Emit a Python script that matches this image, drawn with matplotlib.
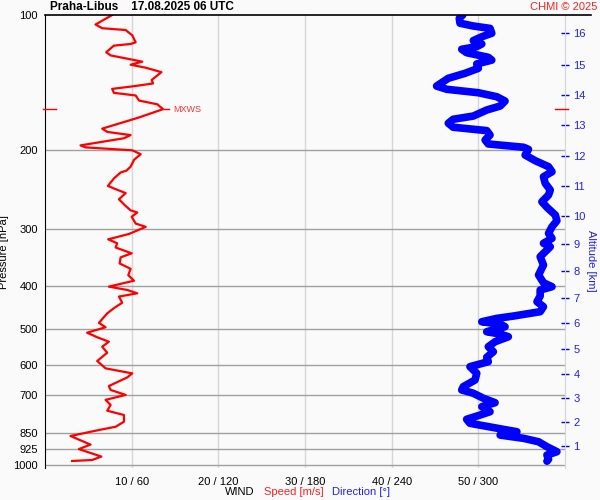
import matplotlib
matplotlib.use("Agg")
import matplotlib.pyplot as plt
from matplotlib.lines import Line2D
import numpy as np

plt.rcParams['font.family'] = ['Liberation Sans', 'DejaVu Sans']

# ---- data ----
speed_p = [100, 105, 107, 108, 111, 115, 116, 117, 121, 123, 125.5, 127, 129, 131, 134, 139.5,
           142, 144, 146, 149, 151, 155, 158, 162, 169, 179, 182, 185, 188, 195, 197, 200, 204,
           210, 217.5, 222, 224, 231, 240, 244, 249, 257, 265, 272, 275, 281, 291, 296, 307,
           315.5, 322, 329, 339, 346, 357, 367, 379, 390, 402, 409, 416, 423, 436.5, 449, 461,
           484, 495, 509, 521, 533, 547, 564, 588.5, 611, 627, 640, 669, 682.5, 700, 718, 737,
           759, 776, 803, 824, 838, 864, 903, 924, 960, 977, 982]
speed = [7.75, 5.83, 6.6, 9.3, 10.07, 10.46, 9.88, 7.95, 7.06, 7.57, 9.88, 11.23, 9.88, 11.62,
         13.43, 12.31, 12.47, 10.27, 7.75, 7.95, 10.46, 10.85, 12.96, 13.62, 10.85, 6.6, 7.18,
         9.88, 9.11, 4.1, 4.68, 10.07, 11.04, 10.27, 9.88, 9.38, 8.73, 7.95, 7.26, 8.15, 9.31,
         8.53, 9.22, 9.88, 10.65, 10.0, 10.46, 11.62, 9.69, 7.29, 8.33, 8.15, 10.0, 8.73, 8.61,
         9.88, 9.61, 10.27, 7.37, 9.49, 10.65, 8.53, 8.91, 7.95, 7.18, 6.22, 6.99, 4.86, 6.02,
         7.37, 6.6, 7.18, 6.02, 6.99, 10.07, 9.49, 7.37, 7.57, 9.31, 6.99, 7.57, 7.18, 9.11,
         9.11, 8.15, 6.22, 2.94, 5.25, 3.9, 6.5, 5.44, 3.13]

dir_p = [100, 101.7, 104.3, 105.8, 107.1, 109.8, 111.8, 114, 116, 117.6, 119.2, 121.3, 124.2,
         126, 128.5, 131.4, 134.8, 138.3, 143.9, 146.3, 148.9, 152, 155.4, 159.4, 162.7, 167.8,
         170.6, 174.1, 177.7, 180.8, 184.9, 189.7, 193.6, 196.9, 199, 204.9, 210.9, 217.5,
         223.2, 229, 236.8, 245.1, 251.5, 260.3, 267.8, 278.6, 286.9, 295.8, 306, 314, 322,
         327.7, 333.3, 344.9, 359.9, 378.7, 394.1, 402.2, 409.1, 421.8, 434.3, 445.6, 457.1,
         467.4, 473, 481.3, 487, 493.7, 506.5, 512.5, 519.7, 533.1, 546.9, 561.1, 577.4, 590.5,
         605.8, 626.8, 648.6, 671, 682.5, 694.1, 712.2, 728.5, 743.5, 763, 776.1, 793.2, 809.6,
         835.2, 845.3, 859.9, 874.5, 889.9, 912.8, 936.5, 952.6, 973.6, 983]
direction = [289.2, 286.8, 287.3, 296.5, 308.1, 309.3, 302.4, 296.5, 302.4, 298.9, 288.5, 291.9,
             306.9, 309.3, 298.9, 300, 290.8, 279.2, 271.1, 278.1, 300, 312.8, 318.5, 315.1,
             305.8, 296.5, 282.6, 279.2, 282.6, 305.8, 308.1, 304.7, 306.9, 331.3, 334.7, 332.4,
             339.4, 348.6, 351, 345.1, 346.3, 349.8, 348.6, 344, 347.5, 353.3, 354.4, 351, 348.6,
             351, 345.1, 349.8, 347.5, 342.8, 345.1, 341.7, 345.1, 351, 342.8, 342.8, 340.6,
             345.1, 342.8, 324.3, 312.8, 302.4, 315.1, 318.5, 305.8, 315.1, 320.8, 311.6, 306.9,
             310.4, 305.8, 306.9, 294.2, 298.9, 297.7, 289.6, 288.5, 296.5, 303.5, 311.6, 302.4,
             308.1, 301.2, 291.9, 294.2, 317.4, 326.7, 315.1, 331.3, 341.7, 347.5, 354.4, 347.5,
             348.6, 347.5]

mxws_p = 162
mxws_speed = 13.6

p_levels = [100, 200, 300, 400, 500, 600, 700, 850, 925, 1000]
speed_ticks = [10, 20, 30, 40, 50]
xtick_labels = ["10 / 60", "20 / 120", "30 / 180", "40 / 240", "50 / 300"]
alt_km = list(range(1, 17))
alt_p = [908, 803, 712, 629, 554, 485, 427, 372, 323, 280, 240, 205.6, 176, 150.6, 129, 109.8]

# ---- figure ----
W, H = 600, 500
bg = '#fafafa'
fig = plt.figure(figsize=(6, 5), dpi=100, facecolor=bg)
ax_l, ax_r, ax_t, ax_b = 45, 565, 15, 468.4
ax = fig.add_axes([ax_l / W, 1 - ax_b / H, (ax_r - ax_l) / W, (ax_b - ax_t) / H])
ax.set_facecolor(bg)
ax.set_yscale('log')
ax.set_ylim(1020, 100)
ax.set_xlim(0, 60)

for s in speed_ticks:
    ax.axvline(s, color='#d6d6d6', lw=1, zorder=1)
for p in p_levels[1:]:
    ax.axhline(p, color='#a0a0a0', lw=1, zorder=1)

ax.plot(np.array(direction) / 6.0, dir_p, color='#0000ff', lw=5.5,
        solid_capstyle='round', solid_joinstyle='round', zorder=3)
ax.plot(speed, speed_p, color='#ff0000', lw=1.6, zorder=4)

# MXWS marker
ax.plot([mxws_speed, mxws_speed + 0.75], [mxws_p, mxws_p], color='#ff0000', lw=1, zorder=4)
ax.text(mxws_speed + 1.2, mxws_p, "MXWS", color='#ff3030', fontsize=6.5, va='center', ha='left')

ax.set_yticks(p_levels)
ax.set_yticklabels([str(p) for p in p_levels], fontsize=8)
ax.yaxis.set_minor_locator(matplotlib.ticker.NullLocator())
ax.tick_params(axis='y', length=0, pad=5)
ax.set_xticks(speed_ticks)
ax.set_xticklabels(xtick_labels, fontsize=8)
ax.tick_params(axis='x', length=0, pad=6)

ax.spines['bottom'].set_visible(False)
ax.spines['left'].set_color('black')
ax.spines['right'].set_color('#d6d6d6')
ax.spines['top'].set_visible(False)

ax_h = ax_b - ax_t
ax_w = ax_r - ax_l
ax.set_ylabel("Pressure [hPa]", fontsize=8)
ax.yaxis.set_label_coords((9 - ax_l) / ax_w, (ax_b - 252) / ax_h)

ax2 = ax.twinx()
ax2.set_yscale('log')
ax2.set_ylim(1020, 100)
ax2.set_yticks(alt_p)
ax2.set_yticklabels([str(k) for k in alt_km], fontsize=8, color='#2020ff')
ax2.yaxis.set_minor_locator(matplotlib.ticker.NullLocator())
ax2.tick_params(axis='y', direction='inout', length=6, color='#0000ff', width=1, pad=3)
for sp in ['top', 'bottom', 'left']:
    ax2.spines[sp].set_visible(False)
ax2.spines['right'].set_color('#d6d6d6')
ax2.set_ylabel("Altitude [km]", fontsize=8, color='#2020ff', rotation=270, va='center')
ax2.yaxis.set_label_coords((591 - ax_l) / ax_w, (ax_b - 261) / ax_h)

# MXWS marks on both sides
y_m = ax.transData.transform((0, mxws_p))[1]
yf = y_m / H
fig.add_artist(Line2D([43 / W, 56 / W], [yf, yf], color='#ff0000', lw=1))
fig.add_artist(Line2D([555 / W, 568 / W], [yf, yf], color='#ff0000', lw=1))

# top line extending past axes
fig.add_artist(Line2D([45 / W, 591 / W], [1 - 15 / H, 1 - 15 / H], color='black', lw=1.2))

fig.text(50 / W, 1 - 7 / H, "Praha-Libus    17.08.2025 06 UTC", fontsize=8.5, fontweight='bold',
         va='center', ha='left')
fig.text(597 / W, 1 - 7 / H, "CHMI \u00a9 2025", fontsize=8, color='#ff2020', va='center', ha='right')

fig.text(225 / W, 1 - 492 / H, "WIND", fontsize=8, va='center', ha='left')
fig.text(264 / W, 1 - 492 / H, "Speed [m/s]", fontsize=8, va='center', ha='left', color='#ff2020')
fig.text(332 / W, 1 - 492 / H, "Direction [\u00b0]", fontsize=8, va='center', ha='left', color='#2020ff')

fig.savefig("out.png", dpi=100, facecolor=bg)
